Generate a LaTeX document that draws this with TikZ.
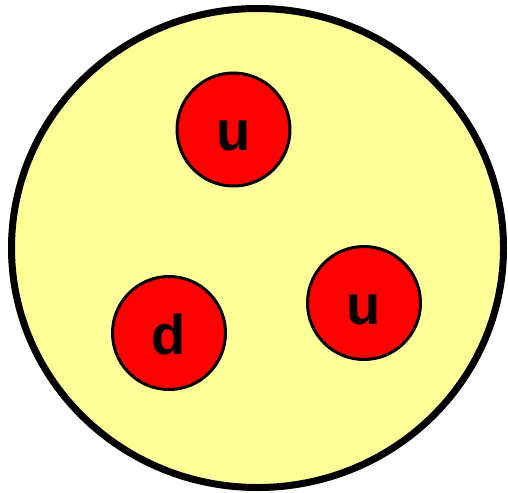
\documentclass[tikz,border=0pt]{standalone}
\usepackage{fontspec}
\setmainfont{Liberation Sans}
\usepackage{xcolor}
\usepackage{tikz}
\usetikzlibrary{shapes.geometric}
\definecolor{hadron}{HTML}{FFFF99}
\definecolor{quarkred}{HTML}{FF0000}
\tikzset{
  vproton/.style={ellipse,draw=black,fill=hadron,line width=7pt,inner sep=0pt,minimum width=492pt,minimum height=479pt},
  vquark/.style={circle,draw=black,fill=quarkred,line width=3pt,inner sep=0pt,minimum size=113pt,
    font=\fontsize{56}{56}\selectfont\bfseries,text height=42pt,text depth=0pt}
}

\begin{document}
\begin{tikzpicture}[x=1pt,y=-1pt]
  \useasboundingbox (0,0) rectangle (508,492);
  \node[vproton] (proton) at (257.5,248) {};
  \node[vquark] (up1) at (233.5,129.5) {u};
  \node[vquark] (up2) at (364,303) {u};
  \node[vquark] (down) at (169,333) {d};
\end{tikzpicture}
\end{document}
